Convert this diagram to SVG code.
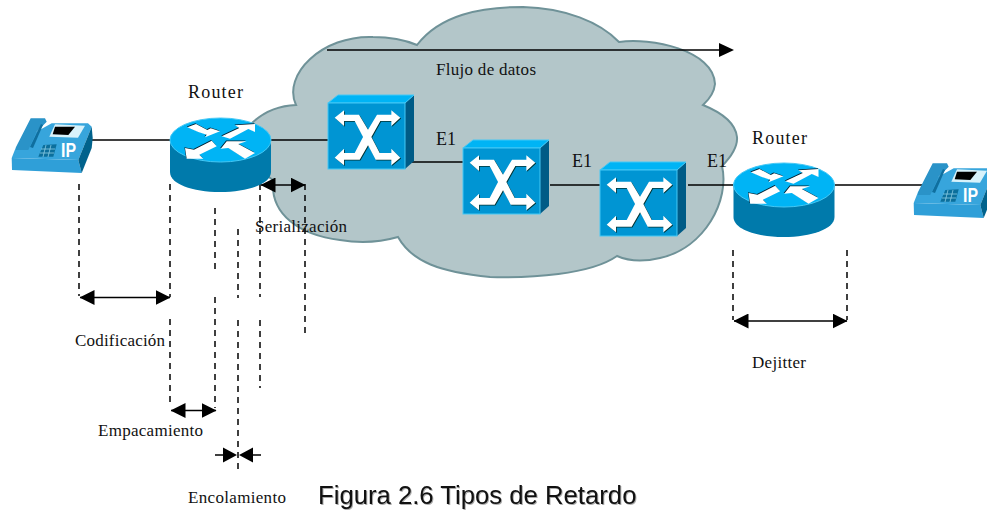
<svg xmlns="http://www.w3.org/2000/svg" width="987" height="510" viewBox="0 0 987 510">
<style>
text{font-family:"Liberation Serif","Times New Roman",serif;fill:#111;font-size:17px}
.m{font-size:18px}
.l{stroke:#000;stroke-width:1.6;fill:none}
.d{stroke:#000;stroke-width:1.5;stroke-dasharray:6 5;fill:none}
.a{stroke:#000;stroke-width:1.5;fill:none;marker-start:url(#h);marker-end:url(#h)}
.front{fill:#0095d3;stroke:#45c8f5;stroke-width:1}
.top{fill:#00b4f5;stroke:#45c8f5;stroke-width:1}
.side{fill:#005b86}
.w{fill:#fff}
.rs{fill:#007aab}
</style>
<defs>
<marker id="h" markerUnits="userSpaceOnUse" viewBox="0 0 15 15" refX="14.5" refY="7.5" markerWidth="15" markerHeight="15" orient="auto-start-reverse"><path d="M0,0L15,7.5L0,15z" fill="#000"/></marker>
<path id="xg" transform="translate(-18.3,0.33) scale(.3333)" d="M75,112L103,90V103H148L175,148L202,103H245V90L272,112L245,137V122H212L185,170L210,218H245V205L272,232L245,255V238H198L175,195L150,238H103V255L75,232L103,205V218H135L160,170L135,122H103V137z"/>
<path id="ra" d="M17.3,12.3L26,9L37.3,15L40.7,13.3L50,16.3L35,22.3L36.7,19.7L28.3,17zM51.7,21.3L69.3,13L65,10.3L85,9V17L78.3,14L60,23.7zM15,33L16.7,43.7H33.3L29.3,39.7L46.7,31.3L41.7,25.7L24,34.7zM50.7,33.7L56.7,26.3H76.7L68.3,29L85,38L75,43.7L58.3,33z"/>
<g id="sw">
<path class="side" d="M77,23L86,15V81L77,89z"/>
<path class="top" d="M0,23L10,15H86L77,23z"/>
<rect class="front" y="23" width="77" height="66"/>
<use href="#xg" x="0.8" y="0.8" fill="#033"/>
<use href="#xg" class="w"/>
</g>
<g id="rt">
<path class="rs" d="M0,25V57C0,69 22,77 50,77C78,77 101,69 101,57V25z"/>
<ellipse class="top" cx="50.5" cy="25" rx="50.5" ry="22"/>
<use href="#ra" x="-0.6" y="-0.7" fill="#023"/>
<use href="#ra" class="w"/>
</g>
<g id="ph">
<path d="M-0.3,40L66.3,42L69.7,55L0,52z" fill="#2f9fd8"/>
<path d="M14,31L24,14L39.7,5.3H76L79.7,8.7L66.3,42L-0.3,40L4,29z" fill="#37a5dc"/>
<path d="M66.3,42L79.7,8.7L80.7,20L79.7,30L69.7,55z" fill="#00628c"/>
<path d="M4,29L18.7,.3H33L34.7,3.7L24.7,13.7L16.3,32H4z" fill="#2a93c8"/>
<path d="M18,29L29,6L31,7L21,30z" fill="#0f6f9f"/>
<path d="M43,6.3L73,7.7L66,19.7L37.3,18.7z" fill="#d8f2fb"/>
<path d="M43,8.7H63L56.3,17L40.7,16.3z" fill="#000"/>
<path d="M31.3,27L44.7,26.3L41.3,38.7H26.3z" fill="#0b6f9c"/>
<path d="M29,31H43M28,35H42M34,27L31,39M39,27L36,39" stroke="#9cd8ee" stroke-width=".7" fill="none"/>
<text x="49" y="39" textLength="15" lengthAdjust="spacingAndGlyphs" style="font-family:'Liberation Sans',sans-serif;font-size:21px;font-weight:bold;fill:#fff">IP</text>
</g>
</defs>
<g id="cloud"><path d="M252,123Q270,106 296,105C282,75 322,35 373,37Q398,37 417,45C440,15 480,7 523,7C565,8 600,22 619,42C650,37 714,50 715,84Q714,95 703,105Q735,118 737,137Q738,150 722,166C730,200 705,248 660,258Q635,264 617,256C590,275 530,278 490,277C440,272 412,262 398,237Q370,245 340,240C300,235 270,215 273,180C250,165 240,140 252,123z" fill="#b3c6c9" stroke="#6f9298" stroke-width="2"/></g>
<g id="connectors">
<path class="l" d="M92,140H170M271,140H328M412,162H463M550,185H600M688,185H734M834,185H922"/>
<path class="l" d="M327,50H722"/><path d="M719,43L734,50L719,57z" fill="#000"/>
<path class="d" d="M79,184V296M170,184V297M170,319V405M215,208V274M215,297V408M238,229V298M238,320V472M260,184V297M260,320V388M305,184V335M733,250V320M847,250V320"/>
<path class="a" d="M80,297.5H170"/>
<path class="a" d="M171,410.5H216"/>
<path class="a" d="M261,185H305"/>
<path class="a" d="M734,321H847"/>
<path class="l" d="M215,455H225M261,455H250" style="stroke-width:1.5"/><path d="M223,447.5L237,455L223,462.5zM253,447.5L239,455L253,462.5z" fill="#000"/>
</g>
<use id="phone1" href="#ph" x="12" y="118"/>
<use id="phone2" href="#ph" x="914" y="163"/>
<use id="router1" href="#rt" x="170" y="115"/>
<use id="router2" href="#rt" x="733.5" y="160"/>
<use id="switch1" href="#sw" x="328" y="80"/>
<use id="switch2" href="#sw" x="463" y="125"/>
<use id="switch3" href="#sw" x="600" y="147"/>
<g id="labels">
<text class="m" x="188" y="98" textLength="55">Router</text>
<text class="m" x="752" y="144" textLength="55">Router</text>
<text class="m" x="436" y="145" textLength="20">E1</text>
<text class="m" x="572" y="167" textLength="20">E1</text>
<text class="m" x="707" y="167" textLength="20">E1</text>
<text x="436" y="75" textLength="100">Flujo de datos</text>
<text x="255" y="232" textLength="92">Serialización</text>
<text x="75" y="346" textLength="90">Codificación</text>
<text x="98" y="436" textLength="105">Empacamiento</text>
<text x="752" y="368" textLength="54">Dejitter</text>
<text x="188" y="503" textLength="98">Encolamiento</text>
<text x="318" y="504" style="font-family:'Liberation Sans',Arial,sans-serif;font-size:25.7px;filter:drop-shadow(1px 1px 0 #aaa)">Figura 2.6 Tipos de Retardo</text>
</g>
</svg>
